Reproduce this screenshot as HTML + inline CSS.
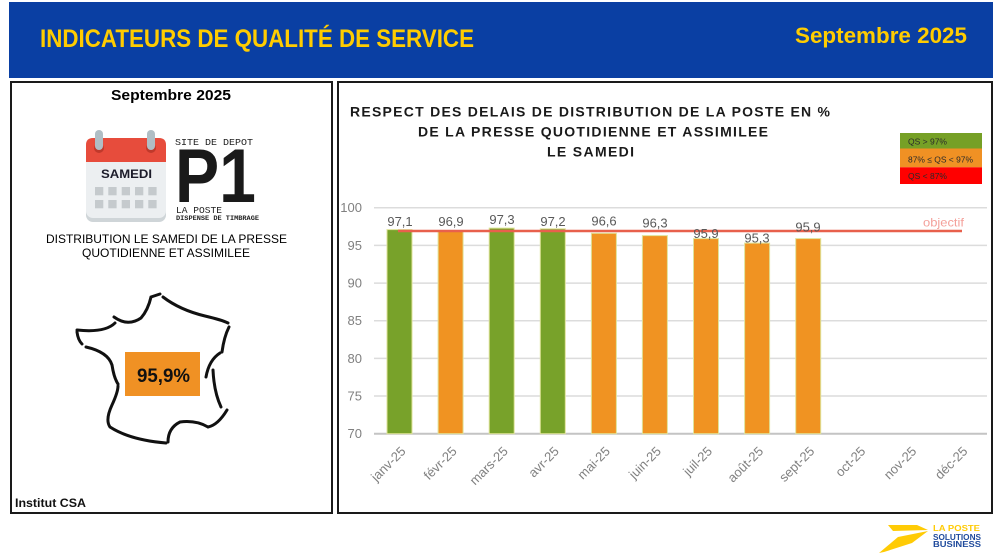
<!DOCTYPE html>
<html>
<head>
<meta charset="utf-8">
<style>
html,body{margin:0;padding:0;background:#fff;}
svg{display:block;}
text{font-family:"Liberation Sans",sans-serif;}
.mono{font-family:"Liberation Mono",monospace;}
</style>
</head>
<body>
<svg width="997" height="556" viewBox="0 0 997 556" xmlns="http://www.w3.org/2000/svg">
  <rect x="0" y="0" width="997" height="556" fill="#ffffff"/>

  <!-- Header -->
  <rect x="9" y="2" width="984" height="76" fill="#0a3fa3"/>
  <text x="40" y="47" font-size="25" font-weight="bold" fill="#ffcc00" textLength="434" lengthAdjust="spacingAndGlyphs">INDICATEURS DE QUALITÉ DE SERVICE</text>
  <text x="795" y="43" font-size="22" font-weight="bold" fill="#ffcc00" textLength="172" lengthAdjust="spacingAndGlyphs">Septembre 2025</text>

  <!-- Panels -->
  <rect x="11" y="82" width="321" height="431" fill="none" stroke="#1a1a1a" stroke-width="2"/>
  <rect x="338" y="82" width="654" height="431" fill="none" stroke="#1a1a1a" stroke-width="2"/>

  <!-- Left panel -->
  <text x="111" y="100" font-size="15" font-weight="bold" fill="#000" textLength="120" lengthAdjust="spacingAndGlyphs">Septembre 2025</text>

  <!-- Calendar icon -->
  <rect x="86" y="138" width="80" height="84" rx="7" fill="#cfd5d8"/>
  <rect x="86" y="138" width="80" height="80" rx="7" fill="#eceff1"/>
  <path d="M86,162 L86,145 Q86,138 93,138 L159,138 Q166,138 166,145 L166,162 Z" fill="#e74c3c"/>
  <circle cx="99" cy="148" r="5" fill="#c0392b"/>
  <circle cx="151" cy="148" r="5" fill="#c0392b"/>
  <rect x="95" y="130" width="8" height="20" rx="4" fill="#b0bec5"/>
  <rect x="147" y="130" width="8" height="20" rx="4" fill="#b0bec5"/>
  <text x="101" y="178" font-size="11.5" font-weight="bold" fill="#1c1c2a" textLength="51" lengthAdjust="spacingAndGlyphs">SAMEDI</text>
  <g fill="#c5cacd">
    <rect x="95" y="187" width="8.3" height="8.3"/>
    <rect x="108.3" y="187" width="8.3" height="8.3"/>
    <rect x="121.7" y="187" width="8.3" height="8.3"/>
    <rect x="135" y="187" width="8.3" height="8.3"/>
    <rect x="148.3" y="187" width="8.3" height="8.3"/>
    <rect x="95" y="200" width="8.3" height="8.3"/>
    <rect x="108.3" y="200" width="8.3" height="8.3"/>
    <rect x="121.7" y="200" width="8.3" height="8.3"/>
    <rect x="135" y="200" width="8.3" height="8.3"/>
    <rect x="148.3" y="200" width="8.3" height="8.3"/>
  </g>

  <!-- P1 stamp -->
  <text class="mono" x="175" y="145" font-size="9" fill="#222" textLength="78" lengthAdjust="spacingAndGlyphs">SITE DE DEPOT</text>
  <text x="175" y="202" font-size="76" font-weight="bold" fill="#1a1a1a" textLength="81" lengthAdjust="spacingAndGlyphs">P1</text>
  <text class="mono" x="176" y="213" font-size="9" fill="#222" textLength="46" lengthAdjust="spacingAndGlyphs">LA POSTE</text>
  <text class="mono" x="176" y="220" font-size="6" font-weight="bold" fill="#222" textLength="83" lengthAdjust="spacingAndGlyphs">DISPENSE DE TIMBRAGE</text>

  <text x="46" y="243" font-size="11.7" fill="#000" textLength="241" lengthAdjust="spacingAndGlyphs">DISTRIBUTION LE SAMEDI DE LA PRESSE</text>
  <text x="82" y="257" font-size="11.7" fill="#000" textLength="168" lengthAdjust="spacingAndGlyphs">QUOTIDIENNE ET ASSIMILEE</text>

  <!-- France map -->
  <g fill="none" stroke="#111" stroke-width="3" stroke-linecap="round">
    <path d="M77,330 Q105,333 115,323"/>
    <path d="M114,317 Q128,327 141,318 Q148,310 151,297 L160,294"/>
    <path d="M163,297 Q180,310 205,316 Q222,320 228,323"/>
    <path d="M229,327 Q224,337 222,352"/>
    <path d="M220,353 Q209,360 206,377"/>
    <path d="M213,370 Q214,392 221,407"/>
    <path d="M227,410 Q218,425 208,427 Q196,420 180,422 Q168,428 168,442"/>
    <path d="M166,443 Q130,440 110,427 Q105,420 112,405 Q118,392 118,386"/>
    <path d="M86,347 Q108,352 112,365 Q114,378 118,384"/>
    <path d="M77,332 Q78,340 82,344"/>
  </g>
  <rect x="125" y="352" width="75" height="44" fill="#f09124"/>
  <text x="137" y="382" font-size="19.5" font-weight="bold" fill="#111" textLength="53" lengthAdjust="spacingAndGlyphs">95,9%</text>

  <text x="15" y="507" font-size="12" font-weight="bold" fill="#111" textLength="71" lengthAdjust="spacingAndGlyphs">Institut CSA</text>

  <!-- Chart title -->
  <g font-size="14" font-weight="bold" fill="#1a1a1a">
    <text x="350" y="116.7" textLength="480" lengthAdjust="spacing">RESPECT DES DELAIS DE DISTRIBUTION DE LA POSTE EN %</text>
    <text x="418" y="136.5" textLength="350" lengthAdjust="spacing">DE LA PRESSE QUOTIDIENNE ET ASSIMILEE</text>
    <text x="547" y="156.5" textLength="87" lengthAdjust="spacing">LE SAMEDI</text>
  </g>

  <!-- Legend -->
  <rect x="900" y="133" width="82" height="15.5" fill="#76a026"/>
  <rect x="900" y="148.5" width="82" height="18.8" fill="#f09124"/>
  <rect x="900" y="167.3" width="82" height="16.7" fill="#ff0000"/>
  <g font-size="8.5" fill="#2a2a2a">
    <text x="908" y="144.7" textLength="39" lengthAdjust="spacingAndGlyphs">QS &gt; 97%</text>
    <text x="908" y="162.3" textLength="65" lengthAdjust="spacingAndGlyphs">87% ≤ QS &lt; 97%</text>
    <text x="908" y="179" textLength="39" lengthAdjust="spacingAndGlyphs">QS &lt; 87%</text>
  </g>

  <!-- Gridlines -->
  <g stroke="#dcdcdc" stroke-width="1.5">
    <line x1="374" y1="207.7" x2="987" y2="207.7"/>
    <line x1="374" y1="245.4" x2="987" y2="245.4"/>
    <line x1="374" y1="283.1" x2="987" y2="283.1"/>
    <line x1="374" y1="320.7" x2="987" y2="320.7"/>
    <line x1="374" y1="358.4" x2="987" y2="358.4"/>
    <line x1="374" y1="396.0" x2="987" y2="396.0"/>
  </g>
  <line x1="374" y1="433.7" x2="987" y2="433.7" stroke="#c4c4c4" stroke-width="2"/>

  <!-- Y labels -->
  <g font-size="13" fill="#808080" text-anchor="end">
    <text x="362" y="212.2">100</text>
    <text x="362" y="249.9">95</text>
    <text x="362" y="287.6">90</text>
    <text x="362" y="325.2">85</text>
    <text x="362" y="362.9">80</text>
    <text x="362" y="400.5">75</text>
    <text x="362" y="438.2">70</text>
  </g>

  <!-- Bars -->
  <g stroke="#dfe39a" stroke-width="1">
    <rect x="387.0" y="229.6" width="25" height="204.1" fill="#78a22a"/>
    <rect x="438.1" y="231.1" width="25" height="202.6" fill="#f09322"/>
    <rect x="489.2" y="228.1" width="25" height="205.6" fill="#78a22a"/>
    <rect x="540.3" y="228.8" width="25" height="204.9" fill="#78a22a"/>
    <rect x="591.4" y="233.3" width="25" height="200.4" fill="#f09322"/>
    <rect x="642.4" y="235.6" width="25" height="198.1" fill="#f09322"/>
    <rect x="693.5" y="238.6" width="25" height="195.1" fill="#f09322"/>
    <rect x="744.6" y="243.1" width="25" height="190.6" fill="#f09322"/>
    <rect x="795.7" y="238.6" width="25" height="195.1" fill="#f09322"/>
  </g>

  <!-- Objectif line -->
  <line x1="398" y1="231" x2="962" y2="231" stroke="#e8604c" stroke-width="2.5"/>
  <text x="923" y="226.7" font-size="12" fill="#f4a09a" textLength="41" lengthAdjust="spacingAndGlyphs">objectif</text>

  <!-- Value labels -->
  <g font-size="13" fill="#595959" text-anchor="middle">
    <text x="400" y="226">97,1</text>
    <text x="451" y="226">96,9</text>
    <text x="502" y="224">97,3</text>
    <text x="553" y="226">97,2</text>
    <text x="604" y="225.7">96,6</text>
    <text x="655" y="227.3">96,3</text>
    <text x="706" y="238">95,9</text>
    <text x="757" y="242.5">95,3</text>
    <text x="808" y="231.5">95,9</text>
  </g>

  <!-- X labels -->
  <g font-size="13" fill="#808080" text-anchor="end">
    <text transform="translate(406.5,452) rotate(-45)">janv-25</text>
    <text transform="translate(457.6,452) rotate(-45)">févr-25</text>
    <text transform="translate(508.7,452) rotate(-45)">mars-25</text>
    <text transform="translate(559.8,452) rotate(-45)">avr-25</text>
    <text transform="translate(610.9,452) rotate(-45)">mai-25</text>
    <text transform="translate(661.9,452) rotate(-45)">juin-25</text>
    <text transform="translate(713.0,452) rotate(-45)">juil-25</text>
    <text transform="translate(764.1,452) rotate(-45)">août-25</text>
    <text transform="translate(815.2,452) rotate(-45)">sept-25</text>
    <text transform="translate(866.3,452) rotate(-45)">oct-25</text>
    <text transform="translate(917.3,452) rotate(-45)">nov-25</text>
    <text transform="translate(968.4,452) rotate(-45)">déc-25</text>
  </g>

  <!-- Logo -->
  <g fill="#ffcb05">
    <polygon points="888,525 917,525 928,530 893,531"/>
    <polygon points="928,531 898,537 879,553 884,552 912,543"/>
  </g>
  <text x="933" y="531" font-size="8" font-weight="bold" fill="#ffcb05" textLength="47" lengthAdjust="spacingAndGlyphs">LA POSTE</text>
  <text x="933" y="540" font-size="8" font-weight="bold" fill="#1f4a9c" textLength="48" lengthAdjust="spacingAndGlyphs">SOLUTIONS</text>
  <text x="933" y="547" font-size="8" font-weight="bold" fill="#1f4a9c" textLength="48" lengthAdjust="spacingAndGlyphs">BUSINESS</text>
</svg>
</body>
</html>
